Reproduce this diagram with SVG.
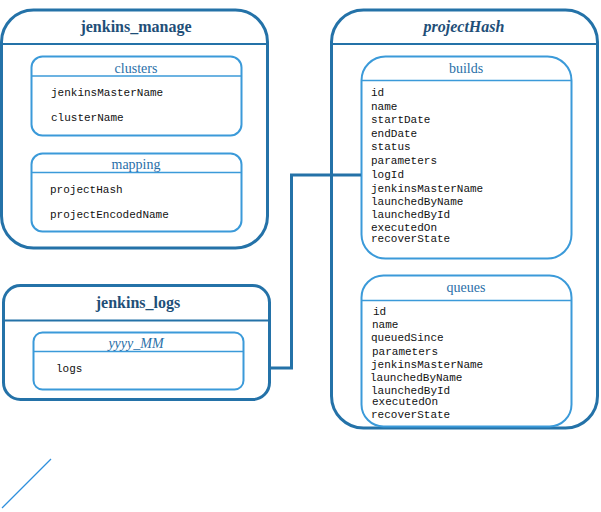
<svg xmlns="http://www.w3.org/2000/svg" width="601" height="512" viewBox="0 0 601 512">
<style>
.outer{fill:#fff;stroke:#2472a8;stroke-width:3}
.oline{stroke:#2472a8;stroke-width:2}
.inner{fill:#fff;stroke:#3b9ad9;stroke-width:2}
.iline{stroke:#3b9ad9;stroke-width:1.5}
.otitle{font-family:"Liberation Serif",serif;font-weight:bold;font-size:16px;fill:#1f4f78;text-anchor:middle}
.ititle{font-family:"Liberation Serif",serif;font-size:14px;fill:#2a6fa8;text-anchor:middle}
.item{font-family:"Liberation Mono",monospace;font-size:11px;fill:#111}
.conn{fill:none;stroke:#2472a8;stroke-width:3}
</style>
<g id="jenkins_manage">
<rect class="outer" x="1.5" y="10" width="266" height="238" rx="32"/>
<line class="oline" x1="1.5" y1="44" x2="267.5" y2="44"/>
<text class="otitle" x="136" y="32">jenkins_manage</text>
</g>
<g id="clusters">
<rect class="inner" x="31.5" y="56.5" width="210" height="79" rx="11"/>
<line class="iline" x1="31.5" y1="76" x2="241.5" y2="76"/>
<text class="ititle" x="136" y="73">clusters</text>
<text class="item" x="51" y="96">jenkinsMasterName</text>
<text class="item" x="51" y="121">clusterName</text>
</g>
<g id="mapping">
<rect class="inner" x="31.5" y="153.5" width="210" height="78" rx="11"/>
<line class="iline" x1="31.5" y1="172.5" x2="241.5" y2="172.5"/>
<text class="ititle" x="136" y="169">mapping</text>
<text class="item" x="50" y="193">projectHash</text>
<text class="item" x="50" y="218">projectEncodedName</text>
</g>
<g id="projectHash">
<rect class="outer" x="331.5" y="10" width="266" height="418" rx="32"/>
<line class="oline" x1="331.5" y1="44" x2="597.5" y2="44"/>
<text class="otitle" x="464" y="32" font-style="italic">projectHash</text>
</g>
<g id="builds">
<rect class="inner" x="361.5" y="56.5" width="210" height="202" rx="24"/>
<line class="iline" x1="361.5" y1="80.5" x2="571.5" y2="80.5"/>
<text class="ititle" x="466" y="73">builds</text>
<text class="item" x="371" y="96">id</text>
<text class="item" x="371" y="109.5">name</text>
<text class="item" x="371" y="122.5">startDate</text>
<text class="item" x="371" y="136.5">endDate</text>
<text class="item" x="371" y="149.5">status</text>
<text class="item" x="371" y="163.5">parameters</text>
<text class="item" x="371" y="178">logId</text>
<text class="item" x="371" y="191.5">jenkinsMasterName</text>
<text class="item" x="371" y="205">launchedByName</text>
<text class="item" x="371" y="218">launchedById</text>
<text class="item" x="371" y="230.5">executedOn</text>
<text class="item" x="371" y="241.5">recoverState</text>
</g>
<g id="queues">
<rect class="inner" x="361.5" y="275.5" width="210" height="151" rx="22"/>
<line class="iline" x1="361.5" y1="300.5" x2="571.5" y2="300.5"/>
<text class="ititle" x="466" y="292">queues</text>
<text class="item" x="373" y="314.5">id</text>
<text class="item" x="372" y="328">name</text>
<text class="item" x="371" y="341">queuedSince</text>
<text class="item" x="372" y="354.5">parameters</text>
<text class="item" x="371" y="367.5">jenkinsMasterName</text>
<text class="item" x="370" y="380.5">launchedByName</text>
<text class="item" x="371" y="393.5">launchedById</text>
<text class="item" x="372" y="404.5">executedOn</text>
<text class="item" x="371" y="417.5">recoverState</text>
</g>
<g id="jenkins_logs">
<rect class="outer" x="3.5" y="285.5" width="266" height="114" rx="17"/>
<line class="oline" x1="3.5" y1="320.5" x2="269.5" y2="320.5"/>
<text class="otitle" x="138" y="308">jenkins_logs</text>
</g>
<g id="yyyy_MM">
<rect class="inner" x="33.5" y="332.5" width="210" height="57" rx="9"/>
<line class="iline" x1="33.5" y1="351.5" x2="243.5" y2="351.5"/>
<text class="ititle" x="136" y="348" font-style="italic">yyyy_MM</text>
<text class="item" x="56" y="372">logs</text>
</g>
<g id="connectors">
<polyline class="conn" points="361,175 291.5,175 291.5,368 270,368"/>
<line x1="2" y1="508" x2="51" y2="459" stroke="#2f8fdc" stroke-width="1.3"/>
</g>
</svg>
